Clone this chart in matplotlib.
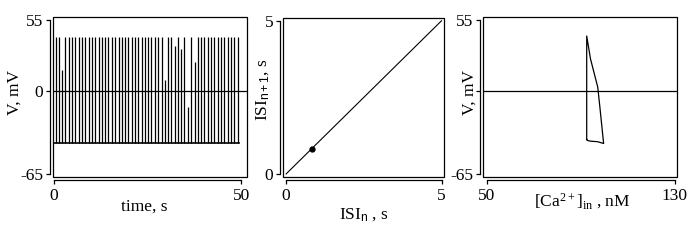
import matplotlib
matplotlib.use("Agg")
import matplotlib.pyplot as plt
from matplotlib.patches import Rectangle

plt.rcParams['font.family'] = ['Liberation Serif', 'DejaVu Serif']
plt.rcParams['font.size'] = 12.5
plt.rcParams['axes.unicode_minus'] = False
plt.rcParams['mathtext.fontset'] = 'custom'
plt.rcParams['mathtext.rm'] = 'Liberation Serif'
plt.rcParams['mathtext.it'] = 'Liberation Serif:italic'
plt.rcParams['mathtext.sf'] = 'Liberation Sans'

# ---- Panel 1: voltage trace ----
spike_times = [0.4, 1.3, 2.2, 3.0, 3.9, 4.8, 5.7, 6.6, 7.5, 8.3, 9.2, 10.1, 11.0, 11.9,
               12.8, 13.6, 14.5, 15.4, 16.3, 17.2, 18.1, 18.9, 19.8, 20.7, 21.6, 22.5,
               23.4, 24.2, 25.1, 26.0, 26.9, 27.8, 28.7, 29.5, 30.4, 31.3, 32.2, 33.1,
               34.0, 34.8, 35.7, 36.6, 37.5, 38.4, 39.3, 40.1, 41.0, 41.9, 42.8, 43.7,
               44.6, 45.4, 46.3, 47.2, 48.1, 49.0]
spike_peaks = [42, 42, 16, 42, 42, 42, 42, 42, 42, 42, 42, 42, 42, 42,
               42, 42, 42, 42, 42, 42, 42, 42, 42, 42, 42, 42,
               42, 42, 42, 42, 42, 42, 42, 8, 42, 42, 35, 42,
               32, 42, -13, 42, 22, 42, 42, 42, 42, 42, 42, 42,
               42, 42, 42, 42, 42, 42]
baseline_v = -41
trace_start, trace_end = 0.1, 49.3
time_ticks = [0, 50]
v_ticks = [55, 0, -65]
v_ticklabels = ['55', '0', '-65']
v_ticklabels_ca = ['55', '', '-65']

# ---- Panel 2: return map ----
isi_line_x = [0, 5]
isi_line_y = [0, 5]
isi_point_x = [0.82]
isi_point_y = [0.82]
isi_ticks = [0, 5]

# ---- Panel 3: V vs [Ca] loop ----
ca_loop = [92.6, 92.6, 94.2, 96.0, 97.3, 98.4, 99.4, 99.8, 97.2, 94.2, 92.8, 92.6]
v_loop = [-38, 42.5, 24.8, 11.9, 2.7, -16.3, -34.2, -41.2, -39.8, -39.4, -38.8, -38]
ca_ticks = [50, 130]

W, H = 695, 241
fig = plt.figure(figsize=(W / 100, H / 100), dpi=100)


def make_ax(x0, y0, x1, y1):
    return fig.add_axes([x0 / W, 1 - y1 / H, (x1 - x0) / W, (y1 - y0) / H])


def style(ax, xt, yt, ylabels=None):
    for s in ['top', 'right']:
        ax.spines[s].set_visible(False)
    for s in ['left', 'bottom']:
        ax.spines[s].set_position(('outward', 2))
        ax.spines[s].set_linewidth(0.9)
    ax.spines['left'].set_bounds(min(yt), max(yt))
    ax.spines['bottom'].set_bounds(min(xt), max(xt))
    ax.set_xticks(xt)
    ax.set_yticks(yt)
    if ylabels is not None:
        ax.set_yticklabels(ylabels)
    ax.tick_params(direction='out', length=3, width=0.9, pad=2)
    ax.tick_params(axis='x', pad=3)
    ax.add_patch(Rectangle((0, 0), 1, 1, transform=ax.transAxes, fill=False,
                           lw=0.9, ec='black', clip_on=False, zorder=5))


# Panel 1
ax1 = make_ax(53, 17, 247, 177)
ax1.set_xlim(-0.3, 51.5)
ax1.set_ylim(-67.3, 57.3)
ax1.vlines(spike_times, baseline_v, spike_peaks, color='black', lw=0.9)
ax1.plot([trace_start, trace_end], [baseline_v, baseline_v], color='black', lw=1.2)
ax1.axhline(0, color='black', lw=0.9)
style(ax1, time_ticks, v_ticks, v_ticklabels)
ax1.set_xlabel('time, s')
ax1.set_ylabel('V, mV')
ax1.xaxis.set_label_coords(0.47, -0.135)
ax1.yaxis.set_label_coords(-0.155, 0.53)

# Panel 2
ax2 = make_ax(283, 18, 444, 177)
ax2.set_xlim(-0.1, 5.08)
ax2.set_ylim(-0.1, 5.09)
ax2.plot(isi_line_x, isi_line_y, color='black', lw=0.8)
ax2.plot(isi_point_x, isi_point_y, 'o', color='black', ms=3.5)
style(ax2, isi_ticks, isi_ticks)
ax2.set_xlabel(r'ISI$_{\mathsf{n}}$ , s')
ax2.set_ylabel(r'ISI$_{\mathsf{n+1}}$, s')
ax2.xaxis.set_label_coords(0.5, -0.185)
ax2.yaxis.set_label_coords(-0.075, 0.55)

# Panel 3
ax3 = make_ax(483, 17, 677, 177)
ax3.set_xlim(48.5, 131.0)
ax3.set_ylim(-67.3, 57.3)
ax3.plot(ca_loop, v_loop, color='black', lw=0.9)
ax3.axhline(0, color='black', lw=0.9)
style(ax3, ca_ticks, v_ticks, v_ticklabels_ca)
ax3.set_xlabel(r'[Ca$^{2+}$]$_{\mathrm{in}}$ , nM')
ax3.set_ylabel('V, mV')
ax3.xaxis.set_label_coords(0.51, -0.09)
ax3.yaxis.set_label_coords(-0.03, 0.53)

fig.savefig('out.png', dpi=100)
